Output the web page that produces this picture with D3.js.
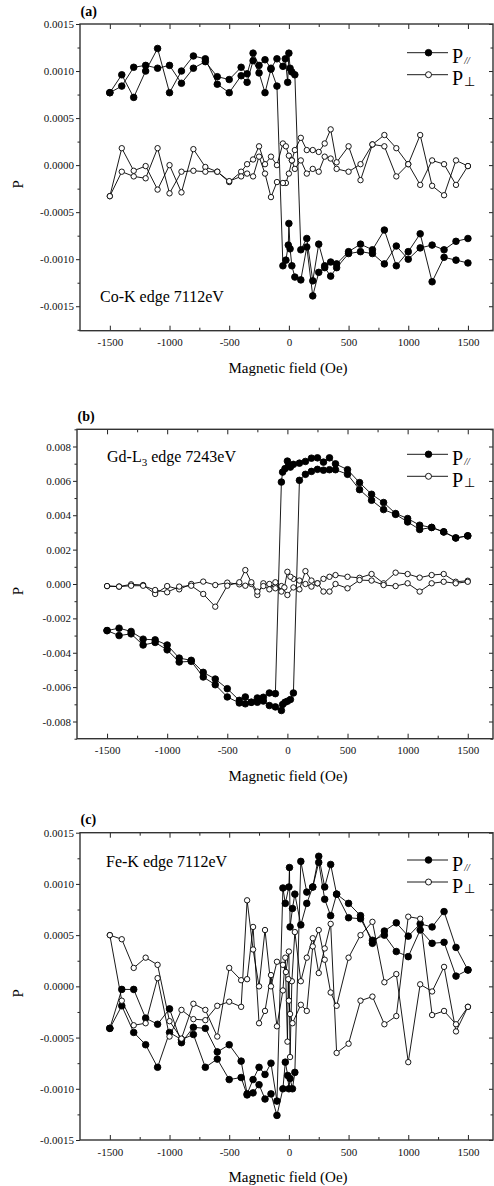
<!DOCTYPE html>
<html>
<head>
<meta charset="utf-8">
<script src="https://cdn.jsdelivr.net/npm/d3@7"></script>
<style>
  body { margin: 0; background: #fff; }
  svg { display: block; font-family: "Liberation Serif", "Times New Roman", serif; }
</style>
</head>
<body>
<svg id="chart" width="494" height="1186"></svg>
<script>
// ---- shared axis values ----
const fieldDomain = [-1750, 1710];
const fieldTicks = [-1500, -1000, -500, 0, 500, 1000, 1500];
const fieldMinor = [-1250, -750, -250, 250, 750, 1250];

// ---- (a) Co-K edge : [field (Oe), P] ----
const coParUp = [[-1500,0.00077],[-1400,0.00084],[-1300,0.00104],[-1200,0.00106],[-1100,0.00103],[-1000,0.00106],[-900,0.00087],[-800,0.00103],[-700,0.00110],[-600,0.00094],[-500,0.00091],[-400,0.00104],[-350,0.00097],[-300,0.00119],[-250,0.00106],[-200,0.00112],[-150,0.00103],[-100,0.00113],[-50,0.00105],[-30,0.00113],[-10,0.00088],[0,0.00119],[10,0.00103],[25,0.00099],[50,0.00096],[100,-0.00090],[150,-0.00078],[200,-0.00123],[250,-0.00084],[300,-0.00107],[350,-0.00103],[400,-0.00105],[500,-0.00092],[600,-0.00084],[700,-0.00090],[800,-0.00069],[900,-0.00107],[1000,-0.00092],[1100,-0.00073],[1200,-0.00124],[1300,-0.00098],[1400,-0.00101],[1500,-0.00104]];
const coParDown = [[1500,-0.00078],[1400,-0.00081],[1300,-0.00090],[1200,-0.00085],[1100,-0.00088],[1000,-0.00100],[900,-0.00086],[800,-0.00105],[700,-0.00094],[600,-0.00092],[500,-0.00094],[400,-0.00109],[350,-0.00118],[300,-0.00109],[250,-0.00114],[200,-0.00139],[150,-0.00087],[100,-0.00122],[50,-0.00119],[25,-0.00107],[10,-0.00089],[0,-0.00062],[-5,-0.00085],[-25,-0.00101],[-50,-0.00107],[-100,0.00084],[-150,0.00102],[-200,0.00077],[-250,0.00098],[-300,0.00111],[-350,0.00088],[-400,0.00095],[-500,0.00077],[-600,0.00086],[-700,0.00113],[-800,0.00116],[-900,0.00100],[-1000,0.00077],[-1100,0.00124],[-1200,0.00100],[-1300,0.00072],[-1400,0.00096],[-1500,0.00077]];
const coPerpUp = [[-1500,-0.00033],[-1400,0.00018],[-1300,-0.00006],[-1200,-0.00001],[-1100,-0.00026],[-1000,0.00000],[-900,-0.00029],[-800,0.00017],[-700,-0.00002],[-600,-0.00007],[-500,-0.00018],[-400,-0.00007],[-350,0.00001],[-300,0.00006],[-250,0.00020],[-200,0.00001],[-150,0.00009],[-100,0.00000],[-50,0.00023],[-25,0.00020],[0,0.00010],[25,0.00005],[50,0.00016],[100,0.00029],[150,0.00016],[200,0.00016],[250,0.00014],[300,0.00023],[350,0.00038],[400,0.00003],[500,0.00020],[600,-0.00016],[700,0.00022],[800,0.00032],[900,0.00018],[1000,0.00001],[1100,0.00032],[1200,-0.00022],[1300,-0.00032],[1400,0.00005],[1500,-0.00001]];
const coPerpDown = [[1500,-0.00001],[1400,-0.00021],[1300,0.00001],[1200,0.00005],[1100,-0.00021],[1000,0.00001],[900,-0.00012],[800,0.00020],[700,0.00022],[600,0.00001],[500,-0.00007],[400,-0.00004],[350,0.00007],[300,0.00009],[250,-0.00007],[200,-0.00004],[150,-0.00009],[100,0.00005],[50,-0.00004],[25,0.00005],[0,-0.00009],[-25,-0.00019],[-50,-0.00019],[-100,-0.00018],[-150,-0.00034],[-200,-0.00009],[-250,0.00009],[-300,-0.00012],[-350,-0.00009],[-400,-0.00012],[-500,-0.00017],[-600,-0.00007],[-700,-0.00007],[-800,-0.00006],[-900,-0.00007],[-1000,-0.00030],[-1100,0.00018],[-1200,-0.00014],[-1300,-0.00012],[-1400,-0.00007],[-1500,-0.00033]];

// ---- (b) Gd-L3 edge ----
const gdParUp = [[-1500,-0.00271],[-1400,-0.00300],[-1300,-0.00290],[-1200,-0.00355],[-1100,-0.00340],[-1000,-0.00383],[-900,-0.00454],[-800,-0.00450],[-700,-0.00541],[-600,-0.00586],[-500,-0.00657],[-400,-0.00692],[-350,-0.00697],[-300,-0.00688],[-250,-0.00688],[-200,-0.00681],[-150,-0.00707],[-100,-0.00715],[-50,-0.00736],[-40,-0.00701],[-20,-0.00688],[0,-0.00682],[25,-0.00672],[50,-0.00634],[100,0.00603],[150,0.00638],[200,0.00655],[250,0.00667],[300,0.00662],[350,0.00665],[400,0.00665],[500,0.00638],[600,0.00549],[700,0.00487],[800,0.00433],[900,0.00405],[1000,0.00361],[1100,0.00317],[1200,0.00329],[1300,0.00303],[1400,0.00268],[1500,0.00280]];
const gdParDown = [[1500,0.00280],[1400,0.00268],[1300,0.00303],[1200,0.00329],[1100,0.00342],[1000,0.00381],[900,0.00410],[800,0.00474],[700,0.00522],[600,0.00590],[500,0.00665],[400,0.00699],[350,0.00734],[300,0.00709],[250,0.00734],[200,0.00732],[150,0.00713],[100,0.00703],[50,0.00696],[25,0.00680],[10,0.00690],[0,0.00715],[-20,0.00671],[-40,0.00651],[-50,0.00593],[-100,-0.00638],[-150,-0.00634],[-200,-0.00659],[-250,-0.00663],[-300,-0.00688],[-350,-0.00657],[-400,-0.00677],[-500,-0.00609],[-600,-0.00553],[-700,-0.00514],[-800,-0.00444],[-900,-0.00431],[-1000,-0.00355],[-1100,-0.00325],[-1200,-0.00321],[-1300,-0.00276],[-1400,-0.00257],[-1500,-0.00271]];
const gdPerpUp = [[-1500,-0.00012],[-1400,-0.00015],[-1300,-0.00002],[-1200,-0.00006],[-1100,-0.00058],[-1000,-0.00012],[-900,-0.00031],[-800,0.00000],[-700,0.00014],[-600,-0.00006],[-500,0.00008],[-400,-0.00002],[-350,-0.00010],[-300,0.00000],[-250,-0.00064],[-200,0.00004],[-150,0.00000],[-100,-0.00025],[-50,-0.00012],[0,-0.00064],[50,-0.00020],[100,-0.00031],[150,0.00075],[200,0.00020],[250,0.00004],[300,0.00030],[350,0.00042],[400,0.00052],[500,0.00042],[600,0.00036],[700,0.00058],[800,0.00004],[900,0.00066],[1000,0.00058],[1100,0.00037],[1200,0.00052],[1300,0.00058],[1400,0.00013],[1500,0.00019]];
const gdPerpDown = [[1500,0.00013],[1400,0.00004],[1300,0.00013],[1200,0.00004],[1100,-0.00044],[1000,0.00004],[900,-0.00012],[800,-0.00006],[700,0.00020],[600,0.00023],[500,-0.00025],[400,0.00000],[350,-0.00044],[300,-0.00044],[250,0.00004],[200,-0.00015],[150,0.00000],[100,0.00020],[50,0.00030],[25,0.00042],[0,0.00071],[-25,-0.00020],[-50,-0.00044],[-100,0.00010],[-150,-0.00031],[-200,-0.00012],[-250,-0.00044],[-300,0.00010],[-350,0.00081],[-400,0.00010],[-500,-0.00010],[-600,-0.00132],[-700,-0.00058],[-800,-0.00010],[-900,-0.00015],[-1000,-0.00048],[-1100,-0.00035],[-1200,-0.00010],[-1300,-0.00010],[-1400,-0.00015],[-1500,-0.00012]];

// ---- (c) Fe-K edge ----
const feParUp = [[-1500,-0.00041],[-1400,-0.00019],[-1300,-0.00045],[-1200,-0.00057],[-1100,-0.00079],[-1000,-0.00045],[-900,-0.00052],[-800,-0.00047],[-700,-0.00079],[-600,-0.00071],[-500,-0.00091],[-400,-0.00089],[-350,-0.00106],[-300,-0.00104],[-250,-0.00096],[-200,-0.00110],[-150,-0.00105],[-100,-0.00126],[-50,-0.00100],[-30,-0.00074],[-10,-0.00087],[0,-0.00100],[10,-0.00090],[30,-0.00100],[50,-0.00084],[100,0.00122],[150,0.00092],[200,0.00097],[250,0.00127],[300,0.00097],[350,0.00119],[400,0.00090],[500,0.00081],[600,0.00069],[700,0.00042],[800,0.00054],[900,0.00062],[1000,0.00049],[1100,0.00061],[1200,0.00058],[1300,0.00073],[1400,0.00038],[1500,0.00016]];
const feParDown = [[1500,0.00016],[1400,0.00010],[1300,0.00043],[1200,0.00042],[1100,0.00055],[1000,0.00029],[900,0.00034],[800,0.00050],[700,0.00045],[600,0.00066],[500,0.00067],[400,0.00090],[350,0.00069],[300,0.00085],[250,0.00121],[200,0.00097],[150,0.00081],[100,0.00060],[50,0.00090],[30,0.00076],[10,0.00058],[5,0.00116],[0,0.00097],[-30,0.00081],[-50,0.00096],[-100,-0.00112],[-150,-0.00075],[-200,-0.00086],[-250,-0.00079],[-300,-0.00091],[-350,-0.00105],[-400,-0.00073],[-500,-0.00057],[-600,-0.00064],[-700,-0.00041],[-800,-0.00040],[-900,-0.00055],[-1000,-0.00022],[-1100,-0.00037],[-1200,-0.00031],[-1300,-0.00003],[-1400,-0.00003],[-1500,-0.00041]];
const fePerpUp = [[-1500,0.00050],[-1400,-0.00014],[-1300,-0.00038],[-1200,-0.00036],[-1100,0.00008],[-1000,-0.00049],[-900,-0.00023],[-800,-0.00032],[-700,-0.00033],[-600,-0.00019],[-500,-0.00015],[-400,-0.00020],[-350,0.00084],[-300,0.00036],[-250,0.00000],[-200,0.00055],[-150,0.00000],[-100,0.00024],[-50,0.00021],[-25,0.00014],[0,0.00034],[10,-0.00069],[25,0.00005],[50,0.00053],[100,0.00005],[150,0.00028],[200,0.00047],[250,0.00013],[300,0.00037],[350,0.00061],[400,-0.00065],[500,-0.00056],[600,-0.00014],[700,-0.00010],[800,-0.00037],[900,-0.00029],[1000,0.00068],[1100,0.00066],[1200,-0.00028],[1300,-0.00024],[1400,-0.00037],[1500,-0.00020]];
const fePerpDown = [[1500,-0.00020],[1400,-0.00044],[1300,0.00019],[1200,-0.00005],[1100,0.00002],[1000,-0.00074],[900,0.00012],[800,0.00004],[700,0.00063],[600,0.00050],[500,0.00028],[400,-0.00019],[350,-0.00006],[300,0.00026],[250,0.00055],[200,0.00039],[150,-0.00024],[100,-0.00018],[30,-0.00036],[10,-0.00027],[0,-0.00014],[-5,0.00007],[-12,-0.00054],[-30,0.00028],[-50,-0.00004],[-100,-0.00039],[-150,0.00011],[-200,-0.00024],[-250,-0.00036],[-300,0.00058],[-350,0.00007],[-400,0.00006],[-500,0.00018],[-600,-0.00049],[-700,-0.00023],[-800,-0.00017],[-900,-0.00051],[-1000,-0.00034],[-1100,0.00021],[-1200,0.00028],[-1300,0.00018],[-1400,0.00046],[-1500,0.00050]];

const svg = d3.select('#chart');

const panels = [
  {
    tag: '(a)', box: {left: 80, right: 493, top: 24, bottom: 330.7},
    yDomain: [-0.00176, 0.0015], yTicks: d3.range(-0.0015, 0.00151, 0.0005), yMinor: [-0.00175, -0.00125, -0.00075, -0.00025, 0.00025, 0.00075, 0.00125],
    digits: 4, par: [coParUp, coParDown], perp: [coPerpUp, coPerpDown],
    note: {x: 100, y: 302, parts: [['Co-K edge 7112eV']]}, legendDy: 28.7
  },
  {
    tag: '(b)', box: {left: 77, right: 493, top: 429.3, bottom: 738.7},
    yDomain: [-0.009, 0.009], yTicks: d3.range(-0.008, 0.0081, 0.002), yMinor: d3.range(-0.009, 0.0091, 0.002),
    digits: 3, par: [gdParUp, gdParDown], perp: [gdPerpUp, gdPerpDown],
    note: {x: 107, y: 461.7, parts: [['Gd-L'], ['3', 'sub'], [' edge 7243eV']]}, legendDy: 25
  },
  {
    tag: '(c)', box: {left: 80, right: 493, top: 832.7, bottom: 1140},
    yDomain: [-0.0015, 0.0015], yTicks: d3.range(-0.0015, 0.00151, 0.0005), yMinor: [-0.00125, -0.00075, -0.00025, 0.00025, 0.00075, 0.00125],
    digits: 4, par: [feParUp, feParDown], perp: [fePerpUp, fePerpDown],
    note: {x: 106, y: 867.3, parts: [['Fe-K edge 7112eV']]}, legendDy: 27.3
  }
];

function styleAxis(sel) {
  sel.select('.domain').remove();
  sel.selectAll('.tick line').attr('stroke', '#222').attr('stroke-width', 1);
  sel.selectAll('.tick text')
    .attr('fill', '#111')
    .attr('font-size', 11)
    .attr('font-family', '"Liberation Serif", "Times New Roman", serif');
}

function drawPanel(p) {
  const { left, right, top, bottom } = p.box;
  const x = d3.scaleLinear(fieldDomain, [left, right]);
  const y = d3.scaleLinear(p.yDomain, [bottom, top]);
  const g = svg.append('g');
  const fmt = d => (Math.abs(d) < 1e-12 ? 0 : d).toFixed(p.digits);

  // axes: left ticks outward with labels, other sides inward
  g.append('g').attr('transform', `translate(${left},0)`)
    .call(d3.axisLeft(y).tickValues(p.yTicks).tickFormat(fmt).tickSizeInner(4).tickSizeOuter(0).tickPadding(2))
    .call(styleAxis);
  g.append('g').attr('transform', `translate(${left},0)`)
    .call(d3.axisLeft(y).tickValues(p.yMinor).tickFormat('').tickSizeInner(2.5).tickSizeOuter(0))
    .call(styleAxis);
  g.append('g').attr('transform', `translate(${right},0)`)
    .call(d3.axisLeft(y).tickValues(p.yTicks).tickFormat('').tickSizeInner(4).tickSizeOuter(0))
    .call(styleAxis);
  g.append('g').attr('transform', `translate(${right},0)`)
    .call(d3.axisLeft(y).tickValues(p.yMinor).tickFormat('').tickSizeInner(2.5).tickSizeOuter(0))
    .call(styleAxis);
  g.append('g').attr('transform', `translate(0,${bottom})`)
    .call(d3.axisBottom(x).tickValues(fieldTicks).tickFormat(d => String(d)).tickSizeInner(-5).tickSizeOuter(0).tickPadding(8))
    .call(styleAxis);
  g.append('g').attr('transform', `translate(0,${bottom})`)
    .call(d3.axisBottom(x).tickValues(fieldMinor).tickFormat('').tickSizeInner(-3).tickSizeOuter(0))
    .call(styleAxis);
  g.append('g').attr('transform', `translate(0,${top})`)
    .call(d3.axisBottom(x).tickValues(fieldTicks).tickFormat('').tickSizeInner(5).tickSizeOuter(0))
    .call(styleAxis);
  g.append('g').attr('transform', `translate(0,${top})`)
    .call(d3.axisBottom(x).tickValues(fieldMinor).tickFormat('').tickSizeInner(3).tickSizeOuter(0))
    .call(styleAxis);

  g.append('rect')
    .attr('x', left).attr('y', top)
    .attr('width', right - left).attr('height', bottom - top)
    .attr('fill', 'none').attr('stroke', '#333').attr('stroke-width', 1.4);

  // series
  const line = d3.line().x(d => x(d[0])).y(d => y(d[1]));
  const series = [
    ...p.par.map(d => ({ data: d, fill: '#000' })),
    ...p.perp.map(d => ({ data: d, fill: '#fff' }))
  ];
  series.forEach(s => {
    g.append('path').datum(s.data)
      .attr('d', line).attr('fill', 'none')
      .attr('stroke', '#000').attr('stroke-width', 0.9);
  });
  series.forEach(s => {
    g.append('g').selectAll('circle')
      .data(s.data)
      .join('circle')
        .attr('cx', d => x(d[0]))
        .attr('cy', d => y(d[1]))
        .attr('r', s.fill === '#000' ? 3.3 : 2.7)
        .attr('fill', s.fill)
        .attr('stroke', '#000')
        .attr('stroke-width', 0.9);
  });

  // panel tag, axis titles, note
  g.append('text').attr('x', left + 0.5).attr('y', top - 8.5)
    .attr('font-size', 14).attr('font-weight', 'bold').text(p.tag);
  g.append('text').attr('x', 288).attr('y', bottom + 42)
    .attr('text-anchor', 'middle').attr('font-size', 15).text('Magnetic field (Oe)');
  g.append('text')
    .attr('transform', `translate(23,${(top + bottom) / 2 + 7}) rotate(-90)`)
    .attr('text-anchor', 'middle').attr('font-size', 15).text('P');

  const note = g.append('text').attr('x', p.note.x).attr('y', p.note.y).attr('font-size', 16);
  p.note.parts.forEach(([t, kind]) => {
    const ts = note.append('tspan').text(t);
    if (kind === 'sub') ts.attr('font-size', 11).attr('dy', 4);
    else if (t.startsWith(' ') && p.note.parts.length > 1) ts.attr('dy', -4);
  });

  // legend
  const ly = top + p.legendDy;
  const entries = [
    { fill: '#000', r: 3.3, sub: '//', subSize: 10, italic: true },
    { fill: '#fff', r: 3, sub: '\u22A5', subSize: 13, italic: false }
  ];
  entries.forEach((e, i) => {
    const yy = ly + i * 22;
    g.append('line').attr('x1', 407).attr('x2', 448).attr('y1', yy).attr('y2', yy)
      .attr('stroke', '#000').attr('stroke-width', 0.9);
    g.append('circle').attr('cx', 428.5).attr('cy', yy).attr('r', e.r)
      .attr('fill', e.fill).attr('stroke', '#000').attr('stroke-width', 0.9);
    const t = g.append('text').attr('x', 452).attr('y', yy + 10.5).attr('font-size', 20);
    t.append('tspan').text('P');
    t.append('tspan').attr('font-size', e.subSize).attr('dx', 1).attr('dy', 0.5)
      .attr('font-style', e.italic ? 'italic' : 'normal').text(e.sub);
  });
}

panels.forEach(drawPanel);
</script>
</body>
</html>
